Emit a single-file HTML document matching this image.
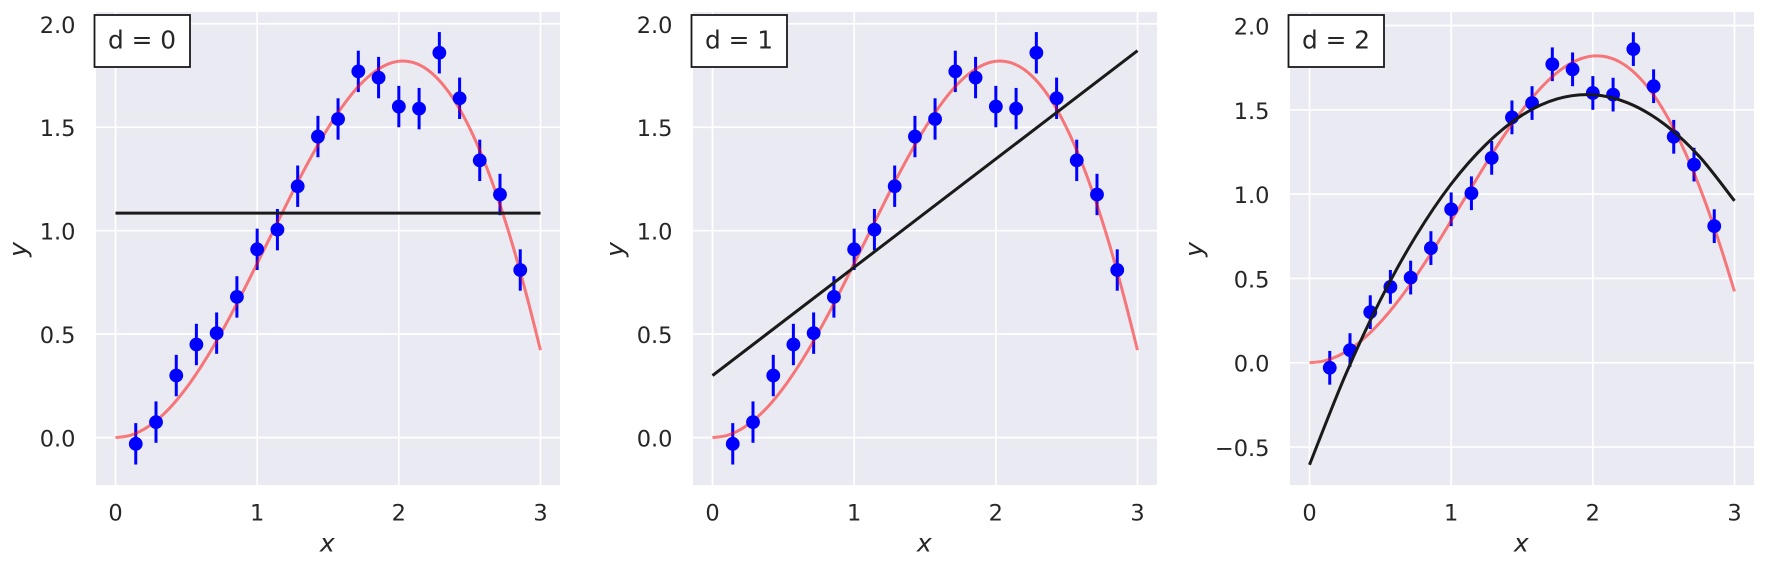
<!DOCTYPE html>
<html lang="en">
<head>
<meta charset="utf-8">
<title>Polynomial fits of degree 0, 1 and 2</title>
<style>
  html, body { margin: 0; padding: 0; background: #ffffff; }
  svg { display: block; }
  text { font-family: "DejaVu Sans", "Liberation Sans", sans-serif; fill: #262626; }
</style>
</head>
<body>
<svg id="chart" xmlns="http://www.w3.org/2000/svg" width="1766" height="566" viewBox="0 0 1766 566"></svg>
<script>
// Shared data
const pointX = [0.143, 0.286, 0.429, 0.571, 0.714, 0.857, 1.0, 1.143, 1.286, 1.429, 1.571, 1.714, 1.857, 2.0, 2.143, 2.286, 2.429, 2.571, 2.714, 2.857];
const pointY = [-0.03, 0.075, 0.30, 0.45, 0.505, 0.68, 0.91, 1.005, 1.215, 1.455, 1.54, 1.77, 1.74, 1.60, 1.59, 1.86, 1.64, 1.34, 1.175, 0.81];
const pointError = [0.1, 0.1, 0.1, 0.1, 0.1, 0.1, 0.1, 0.1, 0.1, 0.1, 0.1, 0.1, 0.1, 0.1, 0.1, 0.1, 0.1, 0.1, 0.1, 0.1];
const trueCurveX = [0, 0.1, 0.2, 0.3, 0.4, 0.5, 0.6, 0.7, 0.8, 0.9, 1.0, 1.1, 1.2, 1.3, 1.4, 1.5, 1.6, 1.7, 1.8, 1.9, 2.0, 2.1, 2.2, 2.3, 2.4, 2.5, 2.6, 2.7, 2.8, 2.9, 3.0];
const trueCurveY = [0, 0.01, 0.04, 0.089, 0.156, 0.24, 0.339, 0.451, 0.574, 0.705, 0.842, 0.98, 1.118, 1.253, 1.38, 1.496, 1.599, 1.686, 1.753, 1.798, 1.819, 1.813, 1.779, 1.715, 1.621, 1.496, 1.34, 1.154, 0.938, 0.692, 0.423];

// Fitted curves
const fit0X = [0, 3];
const fit0Y = [1.085, 1.085];
const fit1X = [0, 3];
const fit1Y = [0.30, 1.87];
const fit2X = [0, 0.25, 0.5, 0.75, 1.0, 1.25, 1.5, 1.75, 2.0, 2.25, 2.5, 2.75, 3.0];
const fit2Y = [-0.605, -0.08, 0.372, 0.75, 1.06, 1.298, 1.468, 1.565, 1.589, 1.54, 1.418, 1.225, 0.96];

// Tick labels
const xTicks = [0, 1, 2, 3];
const yTicksA = [0.0, 0.5, 1.0, 1.5, 2.0];
const yTicksB = [-0.5, 0.0, 0.5, 1.0, 1.5, 2.0];

const svgNS = 'http://www.w3.org/2000/svg';
const chart = document.getElementById('chart');
const TOP = 12, BOTTOM = 485, WIDTH = 464;

function make(parent, tag, attrs) {
  const el = document.createElementNS(svgNS, tag);
  for (const k in attrs) el.setAttribute(k, attrs[k]);
  parent.appendChild(el);
  return el;
}

function smoothPath(xs, ys, sx, sy) {
  const p = xs.map((x, i) => [sx(x), sy(ys[i])]);
  let d = 'M' + p[0][0].toFixed(2) + ' ' + p[0][1].toFixed(2);
  for (let i = 0; i < p.length - 1; i++) {
    const a = p[Math.max(i - 1, 0)], b = p[i], c = p[i + 1], e = p[Math.min(i + 2, p.length - 1)];
    const c1x = b[0] + (c[0] - a[0]) / 6, c1y = b[1] + (c[1] - a[1]) / 6;
    const c2x = c[0] - (e[0] - b[0]) / 6, c2y = c[1] - (e[1] - b[1]) / 6;
    d += 'C' + c1x.toFixed(2) + ' ' + c1y.toFixed(2) + ' ' + c2x.toFixed(2) + ' ' + c2y.toFixed(2) + ' ' + c[0].toFixed(2) + ' ' + c[1].toFixed(2);
  }
  return d;
}

function drawPanel(id, left, yMin, yMax, yTicks, fitX, fitY) {
  const g = make(chart, 'g', {});
  
  

  const xMin = -0.1376, xMax = 3.1376;
  const sx = v => left + (v - xMin) / (xMax - xMin) * WIDTH;
  const sy = v => BOTTOM - (v - yMin) / (yMax - yMin) * (BOTTOM - TOP);

  const bg = make(g, 'rect', { x: left, y: TOP, width: WIDTH, height: BOTTOM - TOP, fill: '#eaeaf2' });
  
  

  xTicks.forEach(t => {
    const line = make(g, 'line', { x1: sx(t), x2: sx(t), y1: TOP, y2: BOTTOM, stroke: '#ffffff', 'stroke-width': 1.7 });
    
    
    const label = make(g, 'text', { x: sx(t), y: 520.5, 'font-size': 22.5, 'text-anchor': 'middle' });
    label.textContent = String(t);
    
    
  });

  yTicks.forEach(t => {
    const line = make(g, 'line', { x1: left, x2: left + WIDTH, y1: sy(t), y2: sy(t), stroke: '#ffffff', 'stroke-width': 1.7 });
    
    
    const label = make(g, 'text', { x: left - 20.5, y: sy(t) + 9, 'font-size': 22.5, 'text-anchor': 'end' });
    label.textContent = (t < 0 ? '\u2212' : '') + Math.abs(t).toFixed(1);
    
    
  });

  pointX.forEach((x, i) => {
    const bar = make(g, 'line', { x1: sx(x), x2: sx(x), y1: sy(pointY[i] - pointError[i]), y2: sy(pointY[i] + pointError[i]), stroke: '#0000ff', 'stroke-width': 3 });
    
    
  });

  const trueCurve = make(g, 'path', { d: smoothPath(trueCurveX, trueCurveY, sx, sy), fill: 'none', stroke: '#ff0000', 'stroke-opacity': 0.5, 'stroke-width': 3 });
  
  

  pointX.forEach((x, i) => {
    const dot = make(g, 'circle', { cx: sx(x), cy: sy(pointY[i]), r: 6.9, fill: '#0000ff' });
    
    
  });

  const fit = make(g, 'path', { d: smoothPath(fitX, fitY, sx, sy), fill: 'none', stroke: '#1a1a1a', 'stroke-width': 3 });
  
  

  const box = make(g, 'rect', { x: left - 1.5, y: 15, width: 95.5, height: 52, fill: '#ffffff', stroke: '#1a1a1a', 'stroke-width': 1.8 });
  
  
  const boxText = make(g, 'text', { x: left + 46, y: 48.5, 'font-size': 24.8, 'text-anchor': 'middle' });
  boxText.textContent = 'd = ' + id;
  
  

  const xTitle = make(g, 'text', { x: left + 231.3, y: 551.5, 'font-size': 25, 'font-style': 'italic', 'text-anchor': 'middle' });
  xTitle.textContent = 'x';
  
  

  const yLabelX = left - (yTicks[0] < 0 ? 87.5 : 69.5);
  const yTitle = make(g, 'text', { x: yLabelX, y: 249.5, 'font-size': 25, 'font-style': 'italic', 'text-anchor': 'middle', transform: 'rotate(-90 ' + yLabelX + ' 249.5)' });
  yTitle.textContent = 'y';
  
  
}

drawPanel(0, 96, -0.229, 2.057, yTicksA, fit0X, fit0Y);
drawPanel(1, 693, -0.229, 2.057, yTicksA, fit1X, fit1Y);
drawPanel(2, 1290, -0.725, 2.08, yTicksB, fit2X, fit2Y);
</script>
</body>
</html>
